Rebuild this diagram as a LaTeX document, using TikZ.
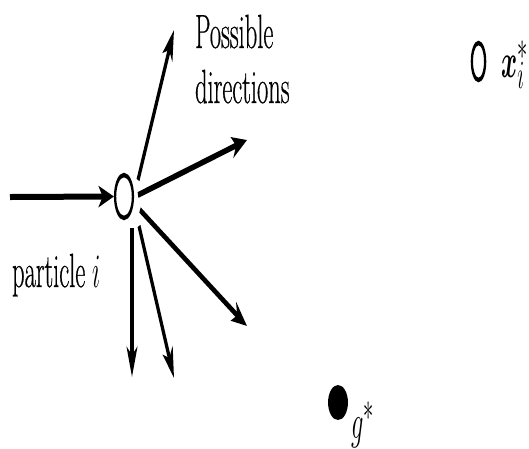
\documentclass[tikz,border=0pt]{standalone}
\usepackage{fontspec}
\usepackage{graphicx}
\usepackage{bm}
\usetikzlibrary{arrows.meta,shapes.geometric}
\setmainfont{Latin Modern Roman}[FakeBold=0.6]
\newcommand{\bigmath}[1]{\scalebox{1.93}{\fontsize{24.88}{30}\selectfont $#1$}}
\begin{document}
\begin{tikzpicture}
\useasboundingbox[fill=white] (0,0) rectangle (529pt,-448pt);
\begin{scope}[transform canvas={xscale=0.51}, x={(1.96078pt,0)}, y={(0,-1pt)},
  arr/.style={line width=6pt, -{Stealth[length=30pt,width=21pt,inset=8pt]}},
  lbl/.style={font=\fontsize{48}{56}\selectfont, inner sep=0pt, anchor=base west},
  pt/.style={ellipse, inner sep=0pt, line width=4.5pt}]
\node[pt, draw, minimum width=35pt, minimum height=43pt] (P) at (124,196.5) {};
\node[pt, draw, minimum width=26pt, minimum height=37pt] (X) at (478.5,61.5) {};
\node[pt, fill=black, minimum width=39pt, minimum height=35pt] (G) at (338,402.5) {};
\node[lbl] (t1) at (195,48) {Possible};
\node[lbl] (t2) at (195,103) {directions};
\node[lbl] (t3) at (12,287) {particle \bigmath{i}};
\node[lbl] (t4) at (501,77) {\bigmath{\bm{x}_i^*}};
\node[lbl] (t5) at (351,438) {\bigmath{g^*}};
\coordinate (s0) at (10,197);
\coordinate (s1) at (138,180);
\coordinate (e1) at (174,30);
\coordinate (s2) at (138,195);
\coordinate (e2) at (247,140);
\coordinate (s3) at (140,210);
\coordinate (e3) at (247,326);
\coordinate (s4) at (132,228);
\coordinate (e4) at (132,377);
\coordinate (s5) at (139,226);
\coordinate (e5) at (174,378);
\draw[arr] (s0) -- (P.west);
\draw[arr] (s1) -- (e1);
\draw[arr] (s2) -- (e2);
\draw[arr] (s3) -- (e3);
\draw[arr] (s4) -- (e4);
\draw[arr] (s5) -- (e5);
\end{scope}
\end{tikzpicture}
\end{document}
